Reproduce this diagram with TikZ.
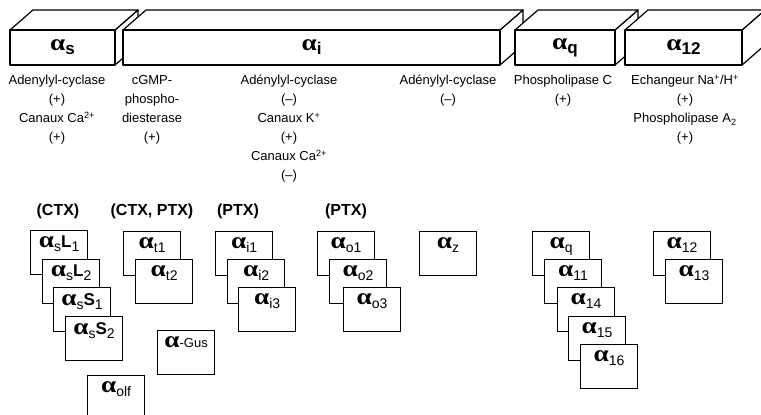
\documentclass[tikz,border=0pt]{standalone}
\usepackage{graphicx}
\usepackage{fontspec}
\setmainfont{Liberation Sans}
\newfontfamily\alphafont{Liberation Serif}
\usetikzlibrary{positioning}
% alpha et indices
\newcommand{\ga}{{\fontsize{21}{21}\selectfont\alphafont\bfseries\scalebox{1.3}[1.1]{α}}}
\newcommand{\gt}[1]{\raisebox{-4pt}{\fontsize{17}{17}\selectfont\bfseries #1}}
\newcommand{\gi}[1]{\raisebox{-4pt}{\fontsize{14}{14}\selectfont\mdseries #1}}
\newcommand{\gl}[1]{{\fontsize{17}{17}\selectfont\bfseries #1}}
\tikzset{
    texte/.style={
        align=center,
        anchor=north,
        inner sep=0pt,
        font=\fontsize{13}{19}\selectfont
    },
    toxine/.style={
        anchor=base,
        inner sep=0pt,
        font=\fontsize{16}{16}\selectfont\bfseries
    },
    face/.style={
        draw,
        fill=white,
        line width=1.2pt,
        line join=round
    },
    front/.style={
        face,
        minimum height=35pt,
        inner sep=0pt
    },
    sousunite/.style={
        draw,
        fill=white,
        line width=1.2pt,
        minimum width=57pt,
        minimum height=44pt,
        anchor=north west,
        inner sep=0pt
    },
    etiq/.style={anchor=north, inner sep=0pt, yshift=-6pt}
}
\begin{document}
\begin{tikzpicture}[x=1pt, y=-1pt]
\useasboundingbox (0,0) rectangle (761,415);

% familles
\foreach \nom/\xa/\xb/\txt in {
    as/10/115/{\ga\gt{s}},
    ai/123/500/{\ga\gt{i}},
    aq/515/615/{\ga\gt{q}},
    a12/625/742/{\ga\gt{12}}}{
    \draw[face] (\xb,30) -- ++(23,-20) -- ++(0,35) -- (\xb,65) -- cycle;
    \draw[face] (\xa,30) -- ++(23,-20) -- ({\xb+23},10) -- (\xb,30) -- cycle;
    \node[front, minimum width={(\xb-\xa)*1pt}] (\nom) at ({(\xa+\xb)/2},47.5) {\txt};
}

% effecteurs
\node[texte] (eff1) at (57,75) {Adenylyl-cyclase\\(+)\\Canaux Ca\textsuperscript{2+}\\(+)};
\node[texte] (eff2) at (152,75) {cGMP-\\phospho-\\diesterase\\(+)};
\node[texte] (eff3) at (289,75) {Adénylyl-cyclase\\(–)\\Canaux K\textsuperscript{+}\\(+)\\Canaux Ca\textsuperscript{2+}\\(–)};
\node[texte] (eff4) at (448,75) {Adénylyl-cyclase\\(–)};
\node[texte] (eff5) at (563,75) {Phospholipase C\\(+)};
\node[texte] (eff6) at (685,75) {Echangeur Na\textsuperscript{+}/H\textsuperscript{+}\\(+)\\Phospholipase A\textsubscript{2}\\(+)};

% toxines
\node[toxine] (ctx) at (58,215) {(CTX)};
\node[toxine] (ctxptx) at (152,215) {(CTX, PTX)};
\node[toxine] (ptxi) at (238,215) {(PTX)};
\node[toxine] (ptxo) at (346,215) {(PTX)};

% sous-unites
\foreach \nom/\x/\y/\txt in {
    asL1/30/230/{\ga\gi{s}\gl{L}\gi{1}},
    asL2/42/259/{\ga\gi{s}\gl{L}\gi{2}},
    asS1/53/287/{\ga\gi{s}\gl{S}\gi{1}},
    asS2/65/316/{\ga\gi{s}\gl{S}\gi{2}},
    at1/123/231/{\ga\gi{t1}},
    at2/135/259/{\ga\gi{t2}},
    agus/157/330/{\ga{\fontsize{13}{13}\selectfont-Gus}},
    aolf/87/375/{\ga\gi{olf}},
    ai1/215/231/{\ga\gi{i1}},
    ai2/227/259/{\ga\gi{i2}},
    ai3/238/287/{\ga\gi{i3}},
    ao1/317/231/{\ga\gi{o1}},
    ao2/329/259/{\ga\gi{o2}},
    ao3/343/287/{\ga\gi{o3}},
    az/419/231/{\ga\gi{z}},
    aq1/532/231/{\ga\gi{q}},
    a11/544/259/{\ga\gi{11}},
    a14/557/287/{\ga\gi{14}},
    a15/568/316/{\ga\gi{15}},
    a16/580/344/{\ga\gi{16}},
    a12b/653/231/{\ga\gi{12}},
    a13/665/259/{\ga\gi{13}}}{
    \node[sousunite, label={[etiq]north:\txt}] (\nom) at (\x,\y) {};
}

\end{tikzpicture}
\end{document}
